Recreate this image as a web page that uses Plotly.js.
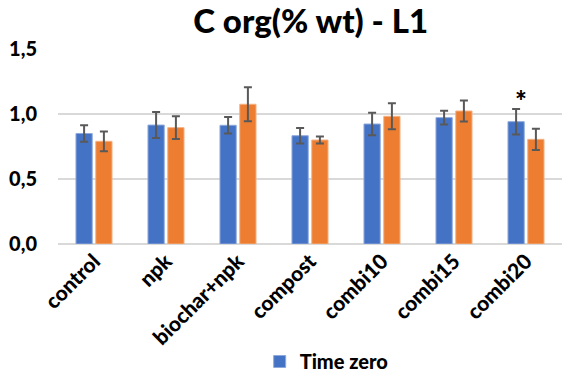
<!DOCTYPE html>
<html>
<head>
<meta charset="utf-8">
<script src="https://cdn.plot.ly/plotly-3.0.1.min.js"></script>
<style>html,body{margin:0;padding:0;background:#fff;}#chart{width:567px;height:375px;}</style>
</head>
<body>
<div id="chart"></div>
<script>
const categories = ["control", "npk", "biochar+npk", "compost", "combi10", "combi15", "combi20"];
const timeZero = [0.85, 0.915, 0.913, 0.833, 0.923, 0.972, 0.941];
const timeZeroErr = [0.063, 0.10, 0.063, 0.06, 0.087, 0.053, 0.098];
const timeEnd = [0.79, 0.895, 1.075, 0.80, 0.982, 1.023, 0.805];
const timeEndErr = [0.076, 0.088, 0.13, 0.026, 0.10, 0.081, 0.082];
const yTicks = [0, 0.5, 1.0, 1.5];
const yTickLabels = ["0,0", "0,5", "1,0", "1,5"];

const font = "Lato, 'Open Sans', 'DejaVu Sans', sans-serif";
const errStyle = {type: 'data', visible: true, color: '#595959', thickness: 2, width: 4};

const traces = [
  {
    type: 'bar', name: 'Time zero', x: categories, y: timeZero,
    error_y: Object.assign({array: timeZeroErr}, errStyle),
    marker: {color: '#4472C4', line: {color: '#8EA9DB', width: 1}},
    showlegend: true
  },
  {
    type: 'bar', name: 'Time end', x: categories, y: timeEnd,
    error_y: Object.assign({array: timeEndErr}, errStyle),
    marker: {color: '#ED7D31', line: {color: '#F4B183', width: 1}},
    showlegend: false
  }
];

const layout = {
  width: 567, height: 375,
  margin: {l: 58, r: 5, t: 49, b: 131},
  paper_bgcolor: '#fff', plot_bgcolor: '#fff',
  barmode: 'group', bargap: 0.45, bargroupgap: 0.18,
  title: {text: 'C org(% wt) - L1', x: 0.548, xanchor: 'center', y: 0.943, yanchor: 'middle',
          font: {family: font, size: 33, color: '#000', weight: 900}},
  xaxis: {
    tickangle: -45, tickfont: {family: font, size: 21, color: '#000', weight: 900},
    showgrid: false, showline: false, ticks: '', zeroline: false, automargin: false
  },
  yaxis: {
    range: [0, 1.5], tickvals: yTicks, ticktext: yTickLabels,
    tickfont: {family: font, size: 20, color: '#000', weight: 900},
    showgrid: true, gridcolor: '#D9D9D9', gridwidth: 1.5,
    zeroline: true, zerolinecolor: '#D9D9D9', zerolinewidth: 1.5,
    showline: false, ticks: '', ticklabelstandoff: 20, automargin: false
  },
  legend: {orientation: 'h', x: 0.458, xanchor: 'left', xref: 'container',
           y: 0.036, yanchor: 'middle', yref: 'container',
           font: {family: font, size: 20, color: '#000', weight: 900}},
  annotations: [{
    x: 'combi20', y: 1.108, xref: 'x', yref: 'y', text: '*', showarrow: false,
    xshift: -5, font: {family: font, size: 28, color: '#000', weight: 900}
  }]
};

Plotly.newPlot('chart', traces, layout, {displayModeBar: false, staticPlot: true});
</script>
</body>
</html>
